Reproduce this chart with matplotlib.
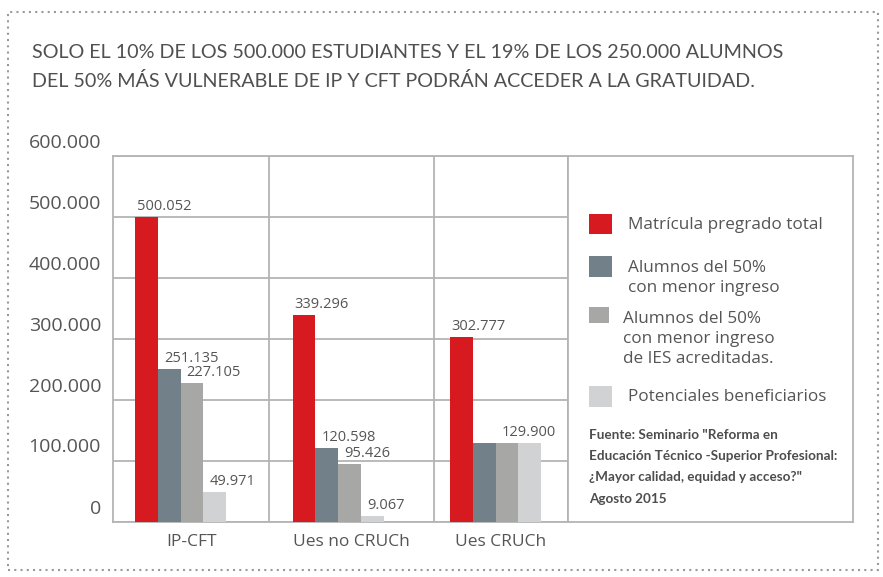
import matplotlib
matplotlib.use("Agg")
import matplotlib.pyplot as plt
from matplotlib.patches import Rectangle
from matplotlib.transforms import ScaledTranslation

# ---------------- data ----------------
categories = ["IP-CFT", "Ues no CRUCh", "Ues CRUCh"]
series_names = [
    "Matrícula pregrado total",
    "Alumnos del 50%\ncon menor ingreso",
    "Alumnos del 50%\ncon menor ingreso\nde IES acreditadas.",
    "Potenciales beneficiarios",
]
matricula_total = [500052, 339296, 302777]
alumnos_50 = [251135, 120598, 129900]
alumnos_50_acreditadas = [227105, 95426, 129900]
potenciales_beneficiarios = [49971, 9067, 129900]
show_value = [
    [True, True, True],
    [True, True, False],
    [True, True, True],
    [True, True, False],
]
y_ticks = [0, 100000, 200000, 300000, 400000, 500000, 600000]
y_tick_labels = ["0", "100.000", "200.000", "300.000", "400.000", "500.000", "600.000"]
title_text = ("SOLO EL 10% DE LOS 500.000 ESTUDIANTES Y EL 19% DE LOS 250.000 ALUMNOS\n"
              "DEL 50% MÁS VULNERABLE DE IP Y CFT PODRÁN ACCEDER A LA GRATUIDAD.")
source_text = ("Fuente: Seminario \"Reforma en\n"
               "Educación Técnico -Superior Profesional:\n"
               "¿Mayor calidad, equidad y acceso?\"\n"
               "Agosto 2015")

series = [matricula_total, alumnos_50, alumnos_50_acreditadas, potenciales_beneficiarios]
colors = ["#d71920", "#718089", "#a7a7a6", "#d1d2d4"]

def fmt(v):
    return f"{v:,}".replace(",", ".")

# ---------------- layout ----------------
W, H = 883, 577
fig = plt.figure(figsize=(W / 100, H / 100), dpi=100)
fig.patch.set_facecolor("white")

TXT = "#555555"
GRID = "#b4b4b4"
FONT = ["Open Sans", "DejaVu Sans"]
NARROW = ["Lato", "DejaVu Sans"]

ax = fig.add_axes([113 / W, 1 - 522 / H, (568 - 113) / W, (522 - 156) / H])
axL = fig.add_axes([568 / W, 1 - 522 / H, (853 - 568) / W, (522 - 156) / H])

bw = 0.1444
for i, (vals, col) in enumerate(zip(series, colors)):
    xs = [g + (i - 1.5) * bw for g in range(len(categories))]
    ax.bar(xs, vals, width=bw, color=col, align="center", zorder=3, linewidth=0)
    for j, (x, v) in enumerate(zip(xs, vals)):
        if show_value[i][j]:
            dx = 1.5 if i == 0 else 6
            tr = ax.transData + ScaledTranslation(dx / 100, 7 / 100, fig.dpi_scale_trans)
            ax.text(x - bw / 2, v, fmt(v), transform=tr, ha="left", va="baseline",
                    fontsize=10.5, color=TXT, family=FONT, zorder=4)

ax.set_xlim(-0.4286, 2.460)
ax.set_ylim(0, 600000)
ax.set_yticks(y_ticks)
ax.set_yticklabels(y_tick_labels)
ax.set_xticks([0.067, 1.086, 2.035])
ax.set_xticklabels(categories)
ax.tick_params(axis="both", length=0)
ax.tick_params(axis="y", pad=8.6, labelsize=14, labelcolor=TXT)
ax.tick_params(axis="x", pad=9, labelsize=12.5, labelcolor=TXT)
for lab in ax.get_yticklabels() + ax.get_xticklabels():
    lab.set_family(FONT)
for lab in ax.get_yticklabels():
    lab.set_transform(lab.get_transform() + ScaledTranslation(0, 15.5 / 100, fig.dpi_scale_trans))

ax.yaxis.grid(True, color=GRID, linewidth=1.3, zorder=0)
ax.set_axisbelow(True)
for sep in (0.562, 1.609):
    ax.axvline(sep, color=GRID, linewidth=1.3, zorder=1)
for sp in ax.spines.values():
    sp.set_color(GRID)
    sp.set_linewidth(1.3)

# ---------------- legend panel ----------------
axL.set_xlim(0, 285)
axL.set_ylim(366, 0)
axL.set_xticks([])
axL.set_yticks([])
for sp in axL.spines.values():
    sp.set_color(GRID)
    sp.set_linewidth(1.3)

leg_boxes = [(21, 58, 23, 20), (21, 100, 23, 21), (21, 151, 20, 16), (21, 230, 23, 21)]
leg_text_top = [(60, 61), (60, 104), (55, 155), (60, 233)]
for (bx, by, bwid, bh), (tx, ty), name, col in zip(leg_boxes, leg_text_top, series_names, colors):
    axL.add_patch(Rectangle((bx, by), bwid, bh, color=col, linewidth=0))
    axL.text(tx, ty, name, ha="left", va="top", fontsize=12.3, color=TXT,
             family=FONT, linespacing=1.32)

axL.text(21, 273, source_text, ha="left", va="top", fontsize=9.7, color="#4d4d4d",
         family=NARROW, fontweight="bold", linespacing=1.92)

# ---------------- title & border ----------------
fig.text(32 / W, 1 - 44 / H, title_text, ha="left", va="top", fontsize=14.2,
         color="#505050", family=NARROW, fontweight="normal", linespacing=1.74)

fig.patches.append(Rectangle((8 / W, 1 - 570 / H), (878 - 8) / W, (570 - 12) / H,
                             transform=fig.transFigure, fill=False,
                             linestyle=(0, (1, 2)), edgecolor="#9a9a9a", linewidth=1.5))

fig.savefig("out.png", dpi=100)
